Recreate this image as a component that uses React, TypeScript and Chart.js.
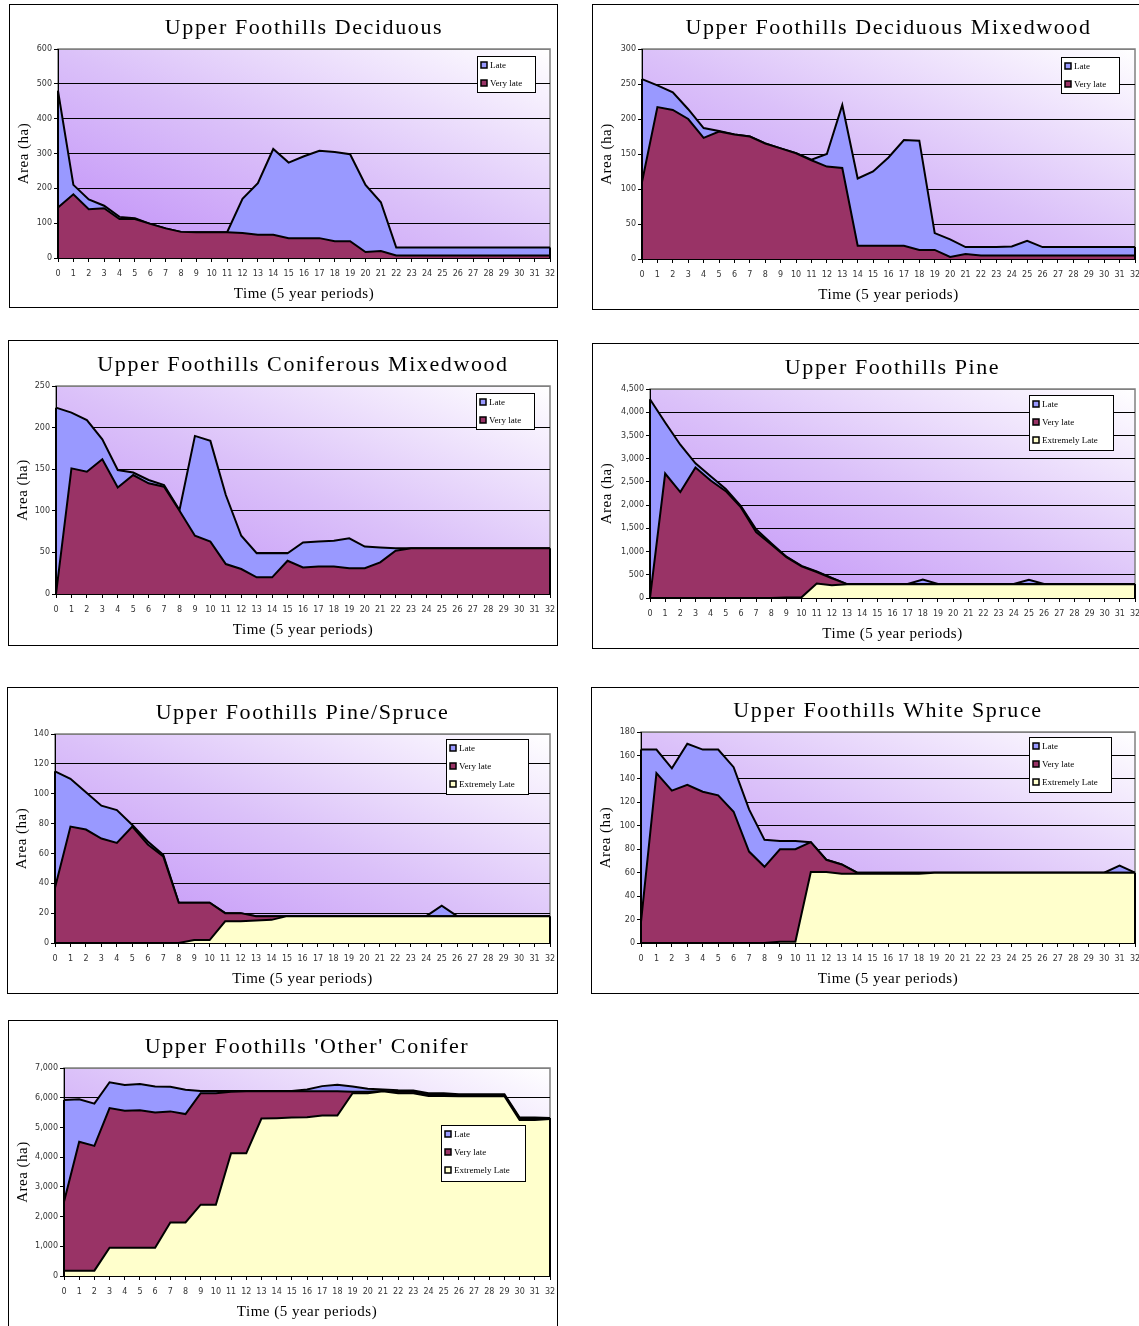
import React, { useEffect, useRef } from 'react';
import { Chart, registerables } from 'chart.js';

Chart.register(...registerables);

// ---------- shared categories ----------
const periods = ['0','1','2','3','4','5','6','7','8','9','10','11','12','13','14','15','16','17','18','19','20','21','22','23','24','25','26','27','28','29','30','31','32'];

// ---------- series values (ha) ----------
const decidVeryLate = [145,183,140,143,112,112,98,85,75,74,74,74,72,67,67,57,57,57,48,48,17,20,7,7,7,7,7,7,7,7,7,7,7];
const decidLate = [335,27,28,7,6,2,0,0,0,0,0,0,98,148,246,217,235,251,256,250,193,140,23,23,23,23,23,23,23,23,23,23,23];

const decMixVeryLate = [110,217,213,200,173,182,178,175,165,158,151,141,132,130,19,19,19,19,13,13,3,7,5,5,5,5,5,5,5,5,5,5,5];
const decMixLate = [147,31,25,14,14,1,0,0,0,0,0,1,18,90,96,106,126,151,156,24,25,10,12,12,13,21,12,12,12,12,12,12,12];

const conMixVeryLate = [0,151,147,162,128,143,133,129,100,70,63,36,30,20,20,40,32,33,33,31,31,38,52,55,55,55,55,55,55,55,55,55,55];
const conMixLate = [224,67,62,24,21,3,4,2,1,120,121,83,40,29,29,9,30,30,31,36,26,18,3,0,0,0,0,0,0,0,0,0,0];

const pineExtLate = [0,0,0,0,0,0,0,0,0,10,15,310,275,295,295,295,295,295,295,295,295,295,295,295,295,295,295,295,295,295,295,295,295];
const pineVeryLate = [0,2680,2280,2810,2530,2300,1950,1420,1150,870,665,250,150,5,5,5,5,5,5,5,5,5,5,5,5,5,5,5,5,5,5,5,5];
const pineLate = [4280,1100,1020,90,90,50,30,60,30,10,10,10,5,0,0,0,0,0,100,0,0,0,0,0,0,90,0,0,0,0,0,0,0];

const psExtLate = [0,0,0,0,0,0,0,0,0,2,2,14.5,14.5,15,15.5,18,18,18,18,18,18,18,18,18,18,18,18,18,18,18,18,18,18];
const psVeryLate = [37,78,76,70,67,78,66,58,27,25,25,5.5,5.5,3,2.5,0,0,0,0,0,0,0,0,0,0,0,0,0,0,0,0,0,0];
const psLate = [78,32,25,22,22,1,2,1,0,0,0,0,0,0,0,0,0,0,0,0,0,0,0,0,0,7,0,0,0,0,0,0,0];

const wsExtLate = [0,0,0,0,0,0,0,0,0,1,1,60.5,60.5,59,59,59,59,59,59,60,60,60,60,60,60,60,60,60,60,60,60,60,60];
const wsVeryLate = [18,145,130,135,129,126,112,78,65,79,79,25.5,10.5,8,1,1,1,1,1,0,0,0,0,0,0,0,0,0,0,0,0,0,0];
const wsLate = [147,20,19,35,36,39,38,36,23,7,7,0,0,0,0,0,0,0,0,0,0,0,0,0,0,0,0,0,0,0,0,6,0];

const ocExtLate = [180,180,180,950,950,950,950,1800,1800,2400,2400,4130,4130,5300,5310,5330,5340,5400,5400,6150,6150,6220,6150,6150,6060,6060,6050,6050,6050,6050,5250,5250,5280];
const ocVeryLate = [2320,4340,4200,4700,4610,4630,4550,3740,3650,3750,3750,2070,2090,920,910,890,880,820,820,50,50,10,50,50,40,40,30,30,30,30,50,50,20];
const ocLate = [3420,1430,1420,870,870,880,880,830,820,80,80,30,10,10,10,10,60,170,220,180,100,50,50,40,50,50,40,40,40,40,30,30,20];

// ---------- labels ----------
const seriesNames = { late: 'Late', veryLate: 'Very late', extLate: 'Extremely Late' };
const seriesColors = { late: '#9999FF', veryLate: '#993366', extLate: '#FFFFCC' };
const xTitle = 'Time (5 year periods)';
const yTitle = 'Area (ha)';

type PanelCfg = {
  title: string;
  box: [number, number, number, number]; // left, top, width, height (page)
  plot: [number, number, number, number]; // l, t, r, b relative to panel
  yMax: number;
  yStep: number;
  late: number[];
  veryLate: number[];
  extLate?: number[];
  legend: [number, number, number, number];
};

const panels: PanelCfg[] = [
  { title: 'Upper Foothills Deciduous', box: [9, 4, 549, 304], plot: [49, 45, 541, 254], yMax: 600, yStep: 100, late: decidLate, veryLate: decidVeryLate, legend: [468, 52, 58, 36] },
  { title: 'Upper Foothills Deciduous Mixedwood', box: [592, 4, 554, 306], plot: [50, 45, 543, 255], yMax: 300, yStep: 50, late: decMixLate, veryLate: decMixVeryLate, legend: [469, 53, 58, 36] },
  { title: 'Upper Foothills Coniferous Mixedwood', box: [8, 340, 550, 306], plot: [48, 46, 542, 254], yMax: 250, yStep: 50, late: conMixLate, veryLate: conMixVeryLate, legend: [468, 53, 58, 36] },
  { title: 'Upper Foothills Pine', box: [592, 343, 554, 306], plot: [58, 46, 543, 255], yMax: 4500, yStep: 500, late: pineLate, veryLate: pineVeryLate, extLate: pineExtLate, legend: [437, 52, 84, 55] },
  { title: 'Upper Foothills Pine/Spruce', box: [7, 687, 551, 307], plot: [48, 47, 543, 256], yMax: 140, yStep: 20, late: psLate, veryLate: psVeryLate, extLate: psExtLate, legend: [439, 52, 82, 55] },
  { title: 'Upper Foothills White Spruce', box: [591, 687, 555, 307], plot: [50, 45, 544, 256], yMax: 180, yStep: 20, late: wsLate, veryLate: wsVeryLate, extLate: wsExtLate, legend: [438, 50, 82, 55] },
  { title: "Upper Foothills 'Other' Conifer", box: [8, 1020, 550, 310], plot: [56, 48, 542, 256], yMax: 7000, yStep: 1000, late: ocLate, veryLate: ocVeryLate, extLate: ocExtLate, legend: [433, 105, 84, 56] },
];

const Y_W = 40;
const X_H = 24;
const SERIF = '"Liberation Serif", "Times New Roman", serif';
const SANS = '"DejaVu Sans", Verdana, sans-serif';

function ChartPanel({ cfg }: { cfg: PanelCfg }) {
  const ref = useRef<HTMLCanvasElement | null>(null);
  useEffect(() => {
    if (!ref.current) return;
    const [, , W, H] = cfg.box;
    const [pl, pt, pr, pb] = cfg.plot;

    const keys: ('extLate' | 'veryLate' | 'late')[] = cfg.extLate ? ['extLate', 'veryLate', 'late'] : ['veryLate', 'late'];
    const datasets = keys.map((k, i) => ({
      label: seriesNames[k],
      data: (cfg as any)[k] as number[],
      backgroundColor: seriesColors[k],
      borderColor: '#000',
      borderWidth: 2,
      fill: i === 0 ? 'origin' : '-1',
      pointRadius: 0,
      tension: 0,
    }));

    const bgPlugin = {
      id: 'plotBg',
      beforeDraw(chart: any) {
        const { ctx, chartArea: a } = chart;
        const w = a.right - a.left;
        const h = a.bottom - a.top;
        ctx.save();
        ctx.fillStyle = '#fff';
        ctx.fillRect(0, 0, chart.width, chart.height);
        // diagonal gradient: purple at bottom-left, white at top-right,
        // iso-lines parallel to the top-left / bottom-right diagonal
        const k = (2 * w * h) / (w * w + h * h);
        const g = ctx.createLinearGradient(a.left, a.bottom, a.left + h * k, a.bottom - w * k);
        g.addColorStop(0, '#bf8cf8');
        g.addColorStop(0.5, '#dbc1f9');
        g.addColorStop(1, '#ffffff');
        ctx.fillStyle = g;
        ctx.fillRect(a.left, a.top, w, h);
        ctx.strokeStyle = '#808080';
        ctx.lineWidth = 1.5;
        ctx.strokeRect(a.left, a.top, w, h);
        ctx.restore();
      },
    };

    const edgePlugin = {
      id: 'edges',
      afterDatasetsDraw(chart: any) {
        const { ctx, scales } = chart;
        const xs = scales.x, ys = scales.y;
        const n = periods.length;
        const top = (i: number) => keys.reduce((s, kk) => s + ((cfg as any)[kk][i] as number), 0);
        ctx.save();
        ctx.strokeStyle = '#000';
        ctx.lineWidth = 2;
        [0, n - 1].forEach((i) => {
          const x = xs.getPixelForValue(i);
          ctx.beginPath();
          ctx.moveTo(x, ys.getPixelForValue(0));
          ctx.lineTo(x, ys.getPixelForValue(top(i)));
          ctx.stroke();
        });
        ctx.restore();
      },
    };

    const textPlugin = {
      id: 'texts',
      afterDraw(chart: any) {
        const { ctx, chartArea: a } = chart;
        const cx = (a.left + a.right) / 2;
        const cy = (a.top + a.bottom) / 2;
        ctx.save();
        ctx.fillStyle = '#000';
        ctx.textAlign = 'center';
        ctx.textBaseline = 'middle';
        ctx.font = `22px ${SERIF}`;
        try { (ctx as any).letterSpacing = '1.6px'; } catch (e) {}
        ctx.fillText(cfg.title, cx, a.top - 21);
        try { (ctx as any).letterSpacing = '0.5px'; } catch (e) {}
        ctx.font = `15px ${SERIF}`;
        ctx.fillText(xTitle, cx, a.bottom + 36);
        ctx.save();
        ctx.translate(15, cy);
        ctx.rotate(-Math.PI / 2);
        ctx.fillText(yTitle, 0, 0);
        ctx.restore();
        try { (ctx as any).letterSpacing = '0px'; } catch (e) {}

        // legend
        const [lx, ly, lw, lh] = cfg.legend;
        ctx.fillStyle = '#fff';
        ctx.fillRect(lx, ly, lw, lh);
        ctx.strokeStyle = '#000';
        ctx.lineWidth = 1;
        ctx.strokeRect(lx + 0.5, ly + 0.5, lw, lh);
        const order = [...keys].reverse();
        ctx.font = `9px ${SERIF}`;
        ctx.textAlign = 'left';
        order.forEach((kk, i) => {
          const y = ly + 9 + i * 18;
          ctx.fillStyle = seriesColors[kk];
          ctx.fillRect(lx + 4, y - 3, 6, 6);
          ctx.strokeStyle = '#000';
          ctx.lineWidth = 1.5;
          ctx.strokeRect(lx + 4, y - 3, 6, 6);
          ctx.fillStyle = '#000';
          ctx.fillText(seriesNames[kk], lx + 13, y + 0.5);
        });
        ctx.restore();
      },
    };

    const chart = new Chart(ref.current, {
      type: 'line',
      data: { labels: periods, datasets: datasets as any },
      plugins: [bgPlugin, edgePlugin, textPlugin],
      options: {
        animation: false,
        responsive: false,
        maintainAspectRatio: false,
        layout: { padding: { left: pl - Y_W, top: pt, right: W - pr, bottom: H - pb - X_H } },
        plugins: { legend: { display: false }, tooltip: { enabled: false }, title: { display: false } },
        scales: {
          x: {
            type: 'category',
            offset: false,
            grid: { display: true, drawOnChartArea: false, drawTicks: true, tickLength: 4, color: '#000', tickColor: '#000' },
            border: { display: true, color: '#000', width: 1 },
            ticks: { font: { family: SANS, size: 8 }, color: '#333', maxRotation: 0, minRotation: 0, autoSkip: false, padding: 7 },
            afterFit: (s: any) => { s.height = X_H; s.paddingLeft = 0; s.paddingRight = 0; },
          },
          y: {
            stacked: true,
            min: 0,
            max: cfg.yMax,
            grid: {
              color: (c: any) => (c.tick && c.tick.value === cfg.yMax ? '#808080' : '#000'),
              lineWidth: 1,
              tickLength: 4,
              tickColor: '#000',
            },
            border: { display: true, color: '#000', width: 1 },
            ticks: {
              stepSize: cfg.yStep,
              font: { family: SANS, size: 8 },
              color: '#333',
              padding: 2,
              callback: (v: any) => Number(v).toLocaleString('en-US'),
            },
            afterFit: (s: any) => { s.width = Y_W; s.paddingTop = 0; s.paddingBottom = 0; },
          },
        },
      } as any,
    });
    return () => chart.destroy();
  }, [cfg]);

  const [left, top, w, h] = cfg.box;
  return (
    <div style={{ position: 'absolute', left, top, width: w, height: h }}>
      <canvas ref={ref} width={w} height={h} style={{ display: 'block', width: w, height: h }} />
      <div style={{ position: 'absolute', inset: 0, border: '1px solid #000', boxSizing: 'border-box', pointerEvents: 'none' }} />
    </div>
  );
}

export default function App() {
  return (
    <div style={{ position: 'fixed', left: 0, top: 0, width: 1139, height: 1326, overflow: 'hidden', background: '#fff' }}>
      {panels.map((p) => (
        <ChartPanel key={p.title} cfg={p} />
      ))}
    </div>
  );
}
